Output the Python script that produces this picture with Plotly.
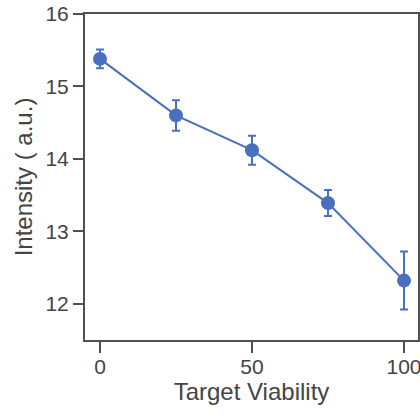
import plotly.graph_objects as go

viability = [0, 25, 50, 75, 100]
intensity = [15.38, 14.60, 14.12, 13.39, 12.32]
err = [0.13, 0.21, 0.20, 0.18, 0.40]
x_ticks = [0, 50, 100]
y_ticks = [12, 13, 14, 15, 16]

blue = "#4a6fbf"
axc = "#505050"
txt = "#444444"
font = "Liberation Sans, Arial, sans-serif"

fig = go.Figure(go.Scatter(
    x=viability, y=intensity, mode="lines+markers",
    line=dict(color=blue, width=2),
    marker=dict(color=blue, size=14),
    error_y=dict(type="data", array=err, color=blue, thickness=2, width=4),
    cliponaxis=False,
))

fig.update_layout(
    width=420, height=416,
    margin=dict(l=85, r=2, t=14, b=76),
    paper_bgcolor="white", plot_bgcolor="white",
    showlegend=False,
    font=dict(family=font, color=txt),
)
fig.update_xaxes(
    range=[-4.93, 104.6], tickvals=x_ticks, ticktext=[str(v) for v in x_ticks],
    showgrid=False, zeroline=False, automargin=False,
    showline=True, linecolor=axc, linewidth=2, mirror=True,
    ticks="outside", ticklen=11, tickwidth=2, tickcolor=axc,
    tickfont=dict(size=21, color=txt), ticklabeloverflow="allow",
    ticklabelstandoff=-4,
    title=dict(text="Target Viability", font=dict(size=24, color=txt), standoff=4),
)
fig.update_yaxes(
    range=[11.5, 16.0], tickvals=y_ticks,
    showgrid=False, zeroline=False, automargin=False,
    showline=True, linecolor=axc, linewidth=2, mirror=True,
    ticks="outside", ticklen=10, tickwidth=2, tickcolor=axc,
    tickfont=dict(size=21, color=txt), ticklabeloverflow="allow",
    title=dict(text="Intensity ( a.u.)", font=dict(size=24, color=txt), standoff=6),
)

fig.write_html("out.html", config={"displayModeBar": False},
               post_script="document.body.style.margin='0';")
